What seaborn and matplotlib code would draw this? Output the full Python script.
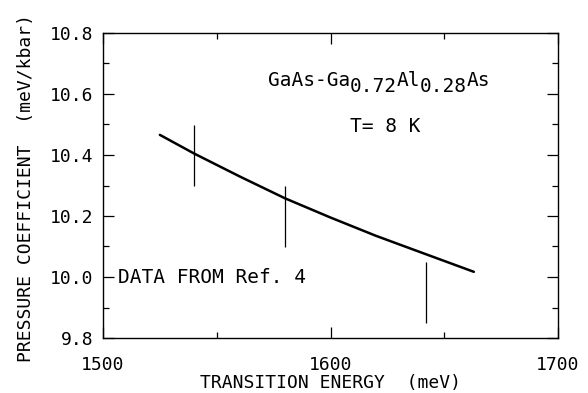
import numpy as np
import pandas as pd
import matplotlib
matplotlib.use('Agg')
import matplotlib.pyplot as plt
import seaborn as sns
from matplotlib.ticker import MultipleLocator, FixedLocator
from matplotlib.transforms import offset_copy

# ---- data ----
energy = [1525, 1540, 1560, 1580, 1600, 1620, 1640, 1663]
coef = [10.466, 10.405, 10.330, 10.258, 10.195, 10.135, 10.080, 10.017]
data_energy = [1540, 1580, 1642]
data_coef = [10.40, 10.20, 9.95]
data_err = [0.10, 0.10, 0.10]
x_ticks = [1500, 1600, 1700]
y_ticks = [9.8, 10.0, 10.2, 10.4, 10.6, 10.8]
x_label = 'TRANSITION ENERGY  (meV)'
y_label = 'PRESSURE COEFFICIENT  (meV/kbar)'
title_pieces = ['GaAs-Ga', '0.72', 'Al', '0.28', 'As']
title_sub = [False, True, False, True, False]
temp_text = 'T= 8 K'
ref_text = 'DATA FROM Ref. 4'

sns.set_theme(style='ticks')
plt.rcParams['font.family'] = ['DejaVu Sans Mono', 'DejaVu Sans']
FS = 13
FS_ANN = 14

fig = plt.figure(figsize=(5.88, 3.93), dpi=100)
ax = fig.add_axes([103 / 588, 1 - 338 / 393, 455 / 588, 305 / 393])

df = pd.DataFrame({'energy': energy, 'coef': coef})
sns.lineplot(data=df, x='energy', y='coef', ax=ax, color='black',
             linewidth=1.8, sort=False)
ax.errorbar(data_energy, data_coef, yerr=data_err, fmt='none',
            ecolor='black', elinewidth=0.9, capsize=0)

ax.set_xlim(1500, 1700)
ax.set_ylim(9.8, 10.8)
ax.xaxis.set_major_locator(FixedLocator(x_ticks))
ax.xaxis.set_minor_locator(MultipleLocator(50))
ax.yaxis.set_major_locator(FixedLocator(y_ticks))
ax.yaxis.set_minor_locator(MultipleLocator(0.1))
ax.set_xticklabels([f'{v:d}' for v in x_ticks])
ax.set_yticklabels([f'{v:.1f}' for v in y_ticks])

ax.tick_params(which='both', direction='in', top=True, right=True,
               color='black', width=0.9)
ax.tick_params(which='major', length=8)
ax.tick_params(which='minor', length=4.5)
ax.tick_params(axis='x', which='major', pad=13, labelsize=FS, labelcolor='black')
ax.tick_params(axis='y', which='major', pad=7, labelsize=FS, labelcolor='black')
for s in ax.spines.values():
    s.set_color('black')
    s.set_linewidth(1.0)
ax.set_facecolor('white')
ax.grid(False)

ax.set_xlabel(x_label, fontsize=FS, color='black', va='center')
ax.xaxis.set_label_coords(0.5, -0.149)
ax.set_ylabel(y_label, fontsize=FS, color='black', va='center')
ax.yaxis.set_label_coords(-0.169, 0.493)

# compound label with same-size lowered subscripts
n = 0
for piece, sub in zip(title_pieces, title_sub):
    tr = offset_copy(ax.transData, fig=fig, x=n * 0.602 * FS_ANN,
                     y=-4.0 if sub else 0.0, units='points')
    ax.text(1572.5, 10.626, piece, transform=tr, fontsize=FS_ANN,
            ha='left', va='baseline', color='black')
    n += len(piece)

ax.text(1608.6, 10.475, temp_text, fontsize=FS_ANN, ha='left',
        va='baseline', color='black')
ax.text(1506.6, 9.979, ref_text, fontsize=FS_ANN, ha='left',
        va='baseline', color='black')

fig.savefig('out.png', dpi=100, facecolor='white')
